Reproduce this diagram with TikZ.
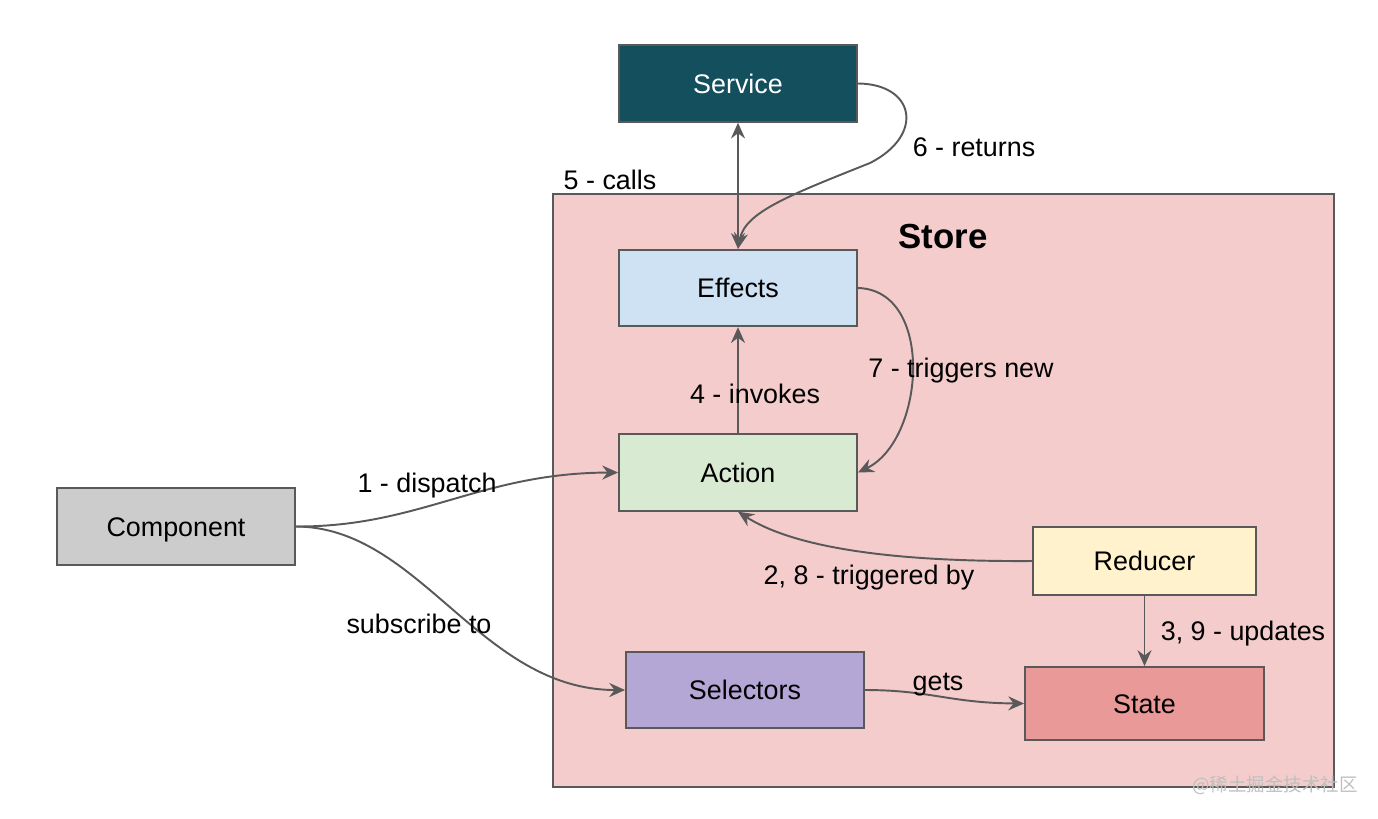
\documentclass[tikz,border=0pt]{standalone}
\usepackage{fontspec}
\setmainfont{Liberation Sans}
\newfontfamily\cjk{Noto Sans CJK SC}
\usetikzlibrary{arrows.meta, positioning}

\definecolor{linegray}{HTML}{595959}
\definecolor{storefill}{HTML}{F4CCCC}
\definecolor{servicefill}{HTML}{134F5C}
\definecolor{effectsfill}{HTML}{CFE2F3}
\definecolor{actionfill}{HTML}{D9EAD3}
\definecolor{componentfill}{HTML}{CCCCCC}
\definecolor{reducerfill}{HTML}{FFF2CC}
\definecolor{selectorsfill}{HTML}{B4A7D6}
\definecolor{statefill}{HTML}{EA9999}

\begin{document}
\begin{tikzpicture}[x=0.02cm, y=0.02cm, font=\fontsize{15.3}{18}\selectfont,
  box/.style = {draw=linegray, line width=1.1pt, minimum width=4.76cm, minimum height=1.53cm,
    text height=11pt, text depth=0pt},
  link/.style = {draw=linegray, line width=1.1pt, >={Stealth[length=9pt, width=8pt, inset=3pt]}},
  lbl/.style = {inner sep=0pt, text height=11pt, text depth=0pt}]
  \useasboundingbox (0,0) rectangle (1378,-818);
  % the store
  \node[draw=linegray, line width=1.1pt, fill=storefill, minimum width=15.62cm, minimum height=11.86cm] (store) at (943.5,-490.5) {};
  \node[lbl, font=\fontsize{19.8}{22}\selectfont\bfseries, text height=14pt] (storetitle) at (943,-236) {Store};
  % boxes
  \node[box, fill=servicefill, text=white] (srv) at (738,-83.5) {Service};
  \node[box, fill=effectsfill] (eff) at (738,-288) {Effects};
  \node[box, fill=actionfill] (act) at (738,-472.5) {Action};
  \node[box, fill=componentfill] (comp) at (176,-526.5) {Component};
  \node[box, fill=reducerfill, minimum width=4.46cm, minimum height=1.36cm] (red) at (1144.5,-561) {Reducer};
  \node[box, fill=selectorsfill] (sel) at (745,-690) {Selectors};
  \node[box, fill=statefill, minimum width=4.78cm, minimum height=1.46cm] (state) at (1144.5,-703.5) {State};
  % connectors
  \coordinate (ret) at (870,-163);
  \draw[link, <->] (srv.south) -- (eff.north);
  \draw[link, ->] (srv.east) .. controls (915,-84) and (925,-135) .. (ret)
    .. controls (790,-195) and (745,-212) .. (eff.north);
  \draw[link, ->] (eff.east) .. controls (935,-290) and (925,-440) .. (act.east);
  \draw[link, ->] (act.north) -- (eff.south);
  \draw[link, ->] (comp.east) .. controls (420,-527) and (480,-473) .. (act.west);
  \draw[link, ->] (comp.east) .. controls (420,-527) and (480,-690) .. (sel.west);
  \draw[link, ->] (sel.east) .. controls (930,-690) and (950,-703) .. (state.west);
  \draw[link, ->] (red.west) .. controls (880,-562) and (790,-545) .. (act.south);
  \draw[link, ->] (red.south) -- (state.north);
  % labels
  \node[lbl] (lcalls) at (610,-180) {5 - calls};
  \node[lbl] (lreturns) at (974,-147) {6 - returns};
  \node[lbl] (ltriggers) at (961,-368) {7 - triggers new};
  \node[lbl] (linvokes) at (755,-394) {4 - invokes};
  \node[lbl] (ldispatch) at (427,-483) {1 - dispatch};
  \node[lbl] (ltriggered) at (869,-575) {2, 8 - triggered by};
  \node[lbl] (lupdates) at (1243,-631) {3, 9 - updates};
  \node[lbl] (lsubscribe) at (419,-624) {subscribe to};
  \node[lbl] (lgets) at (938,-681) {gets};
  \node[inner sep=0pt, text=black!25, font=\cjk\fontsize{10.5}{12}\selectfont] (mark) at (1275,-785) {@稀土掘金技术社区};
\end{tikzpicture}
\end{document}
